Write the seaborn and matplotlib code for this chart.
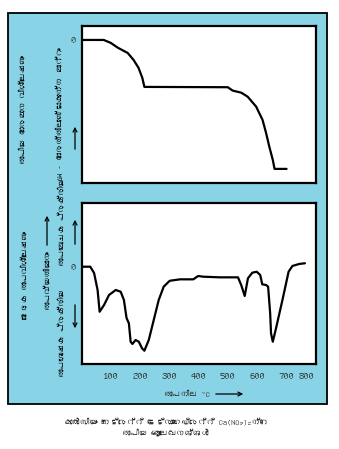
import numpy as np
import pandas as pd
import matplotlib
matplotlib.use("Agg")
import matplotlib.pyplot as plt
import seaborn as sns
from matplotlib import font_manager
from matplotlib.ft2font import FT2Font
from matplotlib.patches import Rectangle, FancyArrowPatch

# ---------------- data ----------------
tga_temp = [5, 76, 100, 124, 158, 178, 195, 208, 215, 500, 517, 546, 568, 597,
            619, 631, 642, 654, 660, 701]
tga_dw = [0, 0, -1.9, -5.0, -8.4, -12.9, -18.0, -24.5, -30.3, -30.5, -32.7, -34.0,
          -36.6, -43.0, -51.6, -60.0, -68.8, -77.4, -83.2, -83.2]

dta_temp = [5, 30, 43, 55, 62, 77, 94, 117, 134, 145, 154, 162, 168, 174, 185, 196,
            207, 215, 230, 247, 264, 281, 298, 303, 337, 382, 399, 416, 473, 535,
            546, 558, 569, 584, 599, 611, 618, 631, 638, 645, 648, 654, 665, 687,
            708, 721, 744, 764]
dta_dt = [0, 0, -0.79, -2.91, -5.63, -4.79, -3.54, -2.91, -3.13, -4.16, -6.41, -7.08,
          -9.38, -9.66, -9.16, -9.38, -10.2, -10.5, -9.16, -6.66, -4.16, -2.5, -1.88,
          -1.75, -1.58, -1.58, -1.16, -1.25, -1.33, -1.33, -2.29, -3.66, -1.45, -0.75,
          -0.63, -1.04, -2.2, -2.29, -2.5, -5.83, -8.33, -9.38, -7.7, -4.16, -0.63,
          0.09, 0.34, 0.43]

tick_vals = [100, 200, 300, 400, 500, 600, 700]
tick_labels = ["100", "200", "300", "400", "500", "600", "700"]
last_label_pos = 770
last_label = "800"

# ---------------- fonts ----------------
mal_font = None
for fe in font_manager.fontManager.ttflist:
    try:
        if 0x0D15 in FT2Font(fe.fname).get_charmap():
            mal_font = fe.name
            break
    except Exception:
        pass

sns.set_style("white")
fam = ([mal_font] if mal_font else []) + ["Liberation Sans", "DejaVu Sans"]
plt.rcParams["font.family"] = fam

W, H = 339, 449
fig = plt.figure(figsize=(W / 100, H / 100), dpi=100)
fig.patch.set_facecolor("white")

def fx(x):
    return x / W

def fy(y):
    return 1 - y / H

BLUE = "#88D4E6"
panel = Rectangle((fx(8), fy(404)), fx(327) - fx(8), fy(13) - fy(404),
                  transform=fig.transFigure, facecolor=BLUE, edgecolor="black",
                  linewidth=1.3, zorder=0)
fig.add_artist(panel)

ax1 = fig.add_axes([fx(81.5), fy(183), fx(315.5) - fx(81.5), fy(26) - fy(183)])
ax2 = fig.add_axes([fx(81.5), fy(364), fx(315.5) - fx(81.5), fy(203) - fy(364)])

tga = pd.DataFrame({"T": tga_temp, "dW": tga_dw})
dta = pd.DataFrame({"T": dta_temp, "dT": dta_dt})

sns.lineplot(data=tga, x="T", y="dW", ax=ax1, color="black", linewidth=1.6,
             sort=False, estimator=None)
sns.lineplot(data=dta, x="T", y="dT", ax=ax2, color="black", linewidth=1.6,
             sort=False, estimator=None)

ax1.set_ylim(-92.3, 9.0)
ax2.set_ylim(-12.16, 7.96)
for ax in (ax1, ax2):
    ax.set_xlim(0, 800)
    ax.set_facecolor("white")
    ax.set_xlabel("")
    ax.set_ylabel("")
    for s in ax.spines.values():
        s.set_linewidth(1.6)
        s.set_color("black")
    ax.set_yticks([0])
    ax.set_yticklabels(["0"], fontsize=7.5)
    ax.tick_params(axis="y", length=0, pad=4)

ax1.set_xticks(tick_vals)
ax1.set_xticklabels([])
ax1.tick_params(axis="x", direction="in", length=6, width=1, color="black")

ax2.set_xticks(tick_vals + [last_label_pos])
ax2.set_xticklabels(tick_labels + [last_label], fontsize=7.5)
ax2.tick_params(axis="x", direction="in", length=6, width=1, color="black", pad=6)
ax2.xaxis.get_major_ticks()[-1].tick1line.set_visible(False)
ax2.xaxis.get_major_ticks()[4].tick1line.set_visible(False)

# ---------------- labels ----------------
def vtext(x, y, s, size=6.0):
    fig.text(fx(x), fy(y), s, rotation=90, ha="center", va="center",
             fontsize=size, color="black")

vtext(23, 110, "താപീയ ഭാരമാന വിശ്ലേഷണം")
vtext(60, 114, "ΔW - ഭാരത്തിലുണ്ടാകുന്ന മാറ്റം")
vtext(25, 275, "ഭേദക താപവിശ്ലേഷണം")
vtext(47, 280, "താപവ്യതിയാനം")
vtext(62, 333, "താപശോഷക പ്രക്രിയ")
vtext(62, 222, "താപമോചക പ്രക്രിയ")

def arrow(x0, y0, x1, y1):
    a = FancyArrowPatch((fx(x0), fy(y0)), (fx(x1), fy(y1)),
                        transform=fig.transFigure, arrowstyle="->",
                        mutation_scale=7, linewidth=0.9, color="black")
    fig.add_artist(a)

arrow(75, 152, 75, 124)
arrow(47, 248, 47, 213)
arrow(75, 247, 75, 217)
arrow(75, 302, 75, 331)
arrow(213, 394, 246, 394)

fig.text(fx(187), fy(394), "താപനില °C", ha="center", va="center", fontsize=6)
fig.text(fx(166), fy(422), "കാൽസിയം നൈട്രേറ്റ് ടെട്രാഹൈഡ്രേറ്റ് Ca(NO₃)₂ന്റെ",
         ha="center", va="center", fontsize=6)
fig.text(fx(166), fy(433), "താപീയ ആലേഖനങ്ങൾ", ha="center", va="center", fontsize=6)

fig.savefig("out.png", dpi=100)
